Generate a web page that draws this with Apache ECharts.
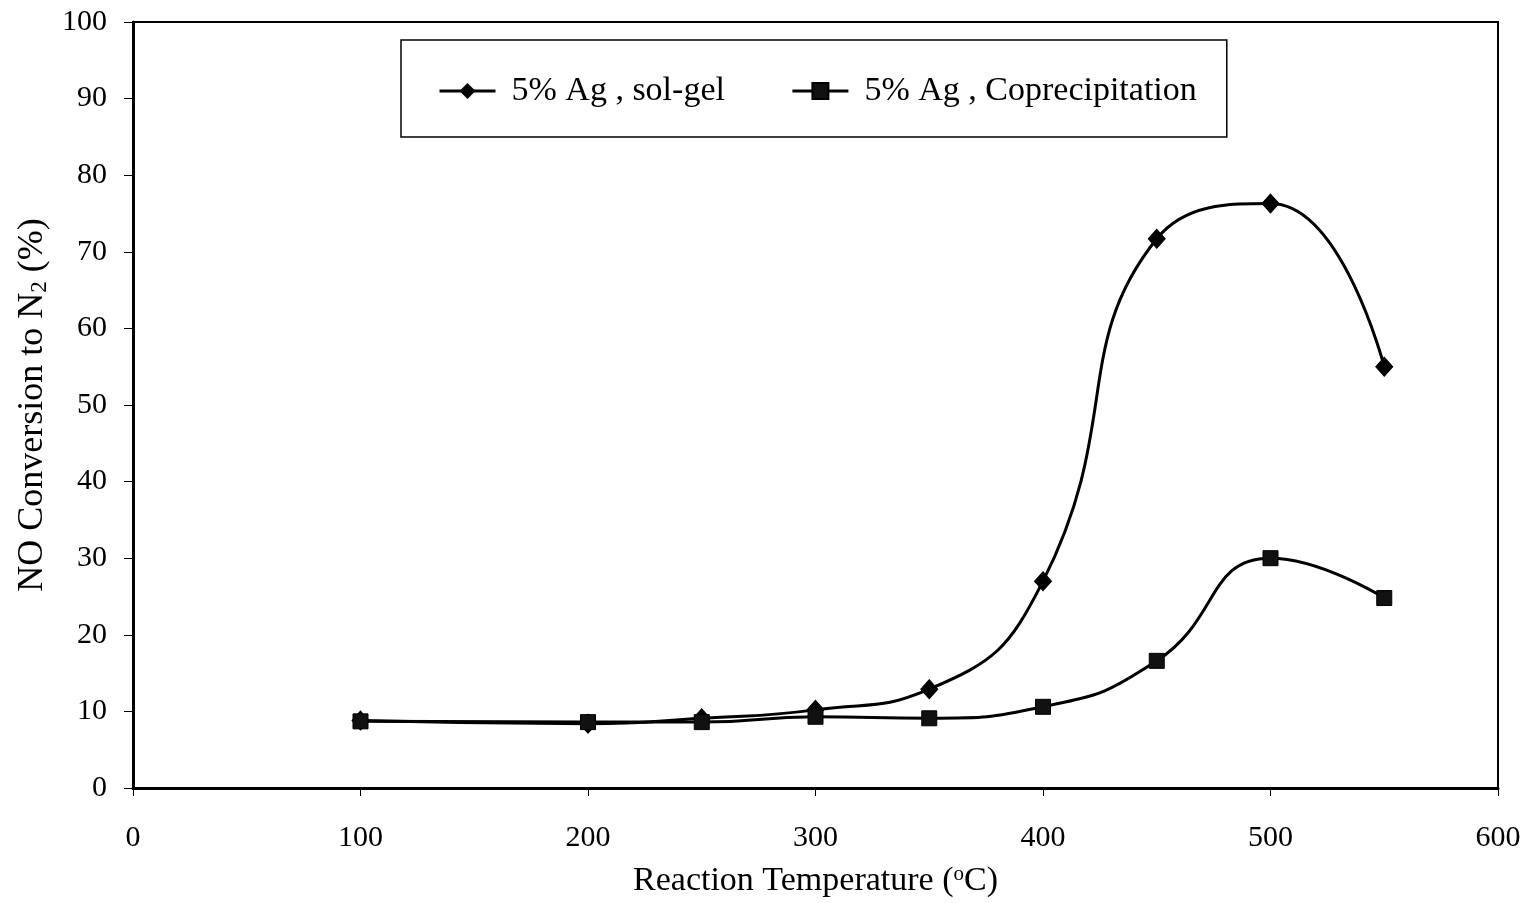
<!DOCTYPE html>
<html>
<head>
<meta charset="utf-8">
<script src="https://cdn.jsdelivr.net/npm/echarts@6/dist/echarts.min.js"></script>
<style>
  html, body { margin: 0; padding: 0; background: #fff; }
  #chart { width: 1532px; height: 903px; }
</style>
</head>
<body>
<div id="chart"></div>
<script>
// Reaction temperatures (°C)
const temperatures = [100, 200, 250, 300, 350, 400, 450, 500, 550];
// NO conversion to N2 (%)
const solGel = [8.8, 8.4, 9.1, 10.2, 12.9, 27.0, 71.7, 76.3, 55.0];
const coprecipitation = [8.7, 8.6, 8.6, 9.3, 9.1, 10.6, 16.6, 30.0, 24.8];
const seriesNames = ['5% Ag , sol-gel', '5% Ag , Coprecipitation'];

const pair = (xs, ys) => xs.map((x, i) => [x, ys[i]]);
const FONT = '"Liberation Serif", "Times New Roman", serif';

const chart = echarts.init(document.getElementById('chart'));
chart.setOption({
  backgroundColor: '#fff',
  animation: false,
  textStyle: { fontFamily: FONT, color: '#000' },
  grid: {
    left: 133, right: 34, top: 22, bottom: 115,
    outerBoundsMode: 'none',
    show: true, borderColor: '#000', borderWidth: 2
  },
  legend: {
    left: 401, top: 40,
    padding: [34, 30, 29, 37],
    borderColor: '#000', borderWidth: 1.5,
    backgroundColor: '#fff',
    itemWidth: 56, itemHeight: 20, itemGap: 66,
    lineStyle: { width: 3, color: '#000' },
    textStyle: { fontFamily: FONT, fontSize: 34, color: '#000', padding: [0, 0, 0, 11] },
    data: seriesNames
  },
  xAxis: {
    type: 'value', min: 0, max: 600, interval: 100,
    name: 'Reaction Temperature ({sup|o}C)',
    nameLocation: 'middle', nameGap: 76,
    nameTextStyle: {
      fontFamily: FONT, fontSize: 34, color: '#000',
      rich: { sup: { fontFamily: FONT, fontSize: 21, color: '#000', verticalAlign: 'top', padding: [0, 0, 12, 0] } }
    },
    axisLine: { show: true, lineStyle: { color: '#000', width: 3 } },
    axisTick: { show: true, length: 8, lineStyle: { color: '#000', width: 1 } },
    axisLabel: { margin: 35, fontFamily: FONT, fontSize: 30, color: '#000' },
    splitLine: { show: false }
  },
  yAxis: {
    type: 'value', min: 0, max: 100, interval: 10,
    name: 'NO Conversion to N{sub|2} (%)',
    nameLocation: 'middle', nameGap: 79,
    nameTextStyle: {
      fontFamily: FONT, fontSize: 36, color: '#000',
      rich: { sub: { fontFamily: FONT, fontSize: 23, color: '#000', verticalAlign: 'bottom', padding: [15, 0, 0, 0] } }
    },
    axisLine: { show: true, lineStyle: { color: '#000', width: 3 } },
    axisTick: { show: true, length: 9, lineStyle: { color: '#000', width: 1 } },
    axisLabel: { margin: 26, fontFamily: FONT, fontSize: 30, color: '#000' },
    splitLine: { show: false }
  },
  series: [
    {
      name: seriesNames[0],
      type: 'line',
      data: pair(temperatures, solGel),
      smooth: 0.5,
      symbol: 'diamond', symbolSize: [17, 19],
      lineStyle: { color: '#000', width: 3 },
      itemStyle: { color: '#000', borderColor: '#000' },
      z: 3
    },
    {
      name: seriesNames[1],
      type: 'line',
      data: pair(temperatures, coprecipitation),
      smooth: 0.5,
      symbol: 'rect', symbolSize: 15,
      lineStyle: { color: '#000', width: 3 },
      itemStyle: { color: '#111', borderColor: '#000', borderWidth: 1 },
      z: 4
    }
  ]
});
</script>
</body>
</html>
